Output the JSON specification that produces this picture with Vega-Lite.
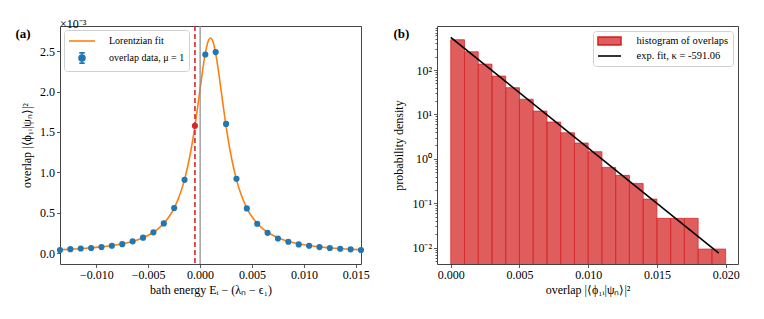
{
  "$schema": "https://vega.github.io/schema/vega-lite/v6.json",
  "padding": {"left": 14, "top": 17, "right": 6, "bottom": 5},
  "background": "white",
  "spacing": 22,
  "resolve": {"scale": {"color": "independent"}, "legend": {"color": "independent"}},
  "config": {
    "view": {"stroke": "#444", "strokeWidth": 1},
    "font": "Liberation Serif",
    "axis": {"domain": false, "grid": false, "tickColor": "#333", "tickSize": 3.5, "tickWidth": 0.8, "labelFont": "Liberation Serif", "labelFontSize": 12, "labelColor": "black", "labelPadding": 2, "titleFont": "Liberation Serif", "titleFontSize": 12, "titleFontWeight": "normal", "titleColor": "black"},
    "legend": {"labelFont": "Liberation Serif", "labelColor": "black", "fillColor": "white", "strokeColor": "#d0d0d0", "cornerRadius": 3, "padding": 4, "title": null}
  },
  "datasets": {
    "curve": [
      {"x": -0.0135, "y": 0.0404}, {"x": -0.012, "y": 0.0501}, {"x": -0.011, "y": 0.0586}, {"x": -0.010, "y": 0.0695},
      {"x": -0.009, "y": 0.0836}, {"x": -0.008, "y": 0.1025}, {"x": -0.007, "y": 0.1284}, {"x": -0.006, "y": 0.1653},
      {"x": -0.005, "y": 0.2201}, {"x": -0.0045, "y": 0.2578}, {"x": -0.004, "y": 0.3058}, {"x": -0.0035, "y": 0.3676},
      {"x": -0.003, "y": 0.4488}, {"x": -0.0025, "y": 0.5574}, {"x": -0.002, "y": 0.7054}, {"x": -0.0015, "y": 0.9099},
      {"x": -0.001, "y": 1.1926}, {"x": -0.00075, "y": 1.370}, {"x": -0.0005, "y": 1.5728}, {"x": -0.00025, "y": 1.7979},
      {"x": 0, "y": 2.0365}, {"x": 0.00025, "y": 2.2708}, {"x": 0.0005, "y": 2.474}, {"x": 0.00075, "y": 2.6145},
      {"x": 0.001, "y": 2.665}, {"x": 0.00125, "y": 2.6145}, {"x": 0.0015, "y": 2.474}, {"x": 0.00175, "y": 2.2708},
      {"x": 0.002, "y": 2.0365}, {"x": 0.00225, "y": 1.7979}, {"x": 0.0025, "y": 1.5728}, {"x": 0.00275, "y": 1.370},
      {"x": 0.003, "y": 1.1926}, {"x": 0.0035, "y": 0.9099}, {"x": 0.004, "y": 0.7054}, {"x": 0.0045, "y": 0.5574},
      {"x": 0.005, "y": 0.4488}, {"x": 0.0055, "y": 0.3676}, {"x": 0.006, "y": 0.3058}, {"x": 0.0065, "y": 0.2578},
      {"x": 0.007, "y": 0.2201}, {"x": 0.008, "y": 0.1653}, {"x": 0.009, "y": 0.1284}, {"x": 0.010, "y": 0.1025},
      {"x": 0.011, "y": 0.0836}, {"x": 0.012, "y": 0.0695}, {"x": 0.013, "y": 0.0586}, {"x": 0.014, "y": 0.0501},
      {"x": 0.0155, "y": 0.0404}
    ],
    "pts": [
      {"x": -0.0135, "y": 0.037}, {"x": -0.0125, "y": 0.048}, {"x": -0.0115, "y": 0.056}, {"x": -0.0105, "y": 0.062},
      {"x": -0.0095, "y": 0.074}, {"x": -0.0085, "y": 0.09}, {"x": -0.0075, "y": 0.11}, {"x": -0.0065, "y": 0.145},
      {"x": -0.0055, "y": 0.19}, {"x": -0.0045, "y": 0.256}, {"x": -0.0035, "y": 0.367}, {"x": -0.0025, "y": 0.557},
      {"x": -0.0015, "y": 0.907}, {"x": 0.0005, "y": 2.46}, {"x": 0.0015, "y": 2.49}, {"x": 0.0025, "y": 1.60},
      {"x": 0.0035, "y": 0.92}, {"x": 0.0045, "y": 0.553}, {"x": 0.0055, "y": 0.363}, {"x": 0.0065, "y": 0.25},
      {"x": 0.0075, "y": 0.18}, {"x": 0.0085, "y": 0.14}, {"x": 0.0095, "y": 0.107}, {"x": 0.0105, "y": 0.09},
      {"x": 0.0115, "y": 0.074}, {"x": 0.0125, "y": 0.062}, {"x": 0.0135, "y": 0.053}, {"x": 0.0145, "y": 0.046},
      {"x": 0.0155, "y": 0.037}
    ],
    "redpt": [{"x": -0.0005, "y": 1.576}],
    "zero": [{"x": 0}],
    "redline": [{"x": -0.0005}],
    "hist": [
      {"x0": 0.000, "x1": 0.001, "h": 481}, {"x0": 0.001, "x1": 0.002, "h": 258}, {"x0": 0.002, "x1": 0.003, "h": 136},
      {"x0": 0.003, "x1": 0.004, "h": 73}, {"x0": 0.004, "x1": 0.005, "h": 40}, {"x0": 0.005, "x1": 0.006, "h": 22},
      {"x0": 0.006, "x1": 0.007, "h": 11.9}, {"x0": 0.007, "x1": 0.008, "h": 6.75}, {"x0": 0.008, "x1": 0.009, "h": 3.87},
      {"x0": 0.009, "x1": 0.010, "h": 2.27}, {"x0": 0.010, "x1": 0.011, "h": 1.45}, {"x0": 0.011, "x1": 0.012, "h": 0.643},
      {"x0": 0.012, "x1": 0.013, "h": 0.425}, {"x0": 0.013, "x1": 0.014, "h": 0.28}, {"x0": 0.014, "x1": 0.015, "h": 0.124},
      {"x0": 0.015, "x1": 0.016, "h": 0.0457}, {"x0": 0.016, "x1": 0.017, "h": 0.0457}, {"x0": 0.017, "x1": 0.018, "h": 0.0457},
      {"x0": 0.018, "x1": 0.019, "h": 0.0093}, {"x0": 0.019, "x1": 0.020, "h": 0.0093}
    ],
    "fit": [{"x": 0, "y": 545}, {"x": 0.0195, "y": 0.0075}]
  },
  "hconcat": [
    {
      "width": 301,
      "height": 238,
      "title": {"text": "×10⁻³", "anchor": "start", "frame": "group", "fontSize": 12, "fontWeight": "normal", "font": "Liberation Serif", "offset": -6, "color": "black"},
      "resolve": {"axis": {"x": "independent"}},
      "layer": [
        {
          "data": {"name": "curve"},
          "transform": [{"calculate": "'Lorentzian fit'", "as": "s"}],
          "mark": {"type": "line", "color": "#ff7f0e", "strokeWidth": 1.6, "interpolate": "monotone", "clip": true},
          "encoding": {
            "x": {"field": "x", "type": "quantitative", "scale": {"domain": [-0.0135, 0.0155], "nice": false, "zero": false},
                  "axis": {"values": [-0.01, -0.005, 0, 0.005, 0.01, 0.015], "format": ".3f", "title": "bath energy Eᵢ − (λₙ − ϵ₁)", "titlePadding": 4}},
            "y": {"field": "y", "type": "quantitative", "scale": {"domain": [-0.136, 2.813], "nice": false, "zero": false},
                  "axis": {"values": [0, 0.5, 1, 1.5, 2, 2.5], "format": ".1f", "title": "overlap |⟨ϕ₁ᵢ|ψₙ⟩|²", "titlePadding": 6}},
            "color": {"field": "s", "type": "nominal",
                      "scale": {"domain": ["Lorentzian fit", "overlap data, μ = 1"], "range": ["#ff7f0e", "#1f77b4"]},
                      "legend": {"orient": "top-left", "offset": 4, "labelFontSize": 10, "symbolSize": 144, "rowPadding": 3, "symbolOffset": 7, "labelOffset": 20,
                                 "encode": {"symbols": {"update": {
                                   "shape": {"signal": "datum.value == 'Lorentzian fit' ? 'M-2.17,0H2.17' : 'M-0.5,0A0.5,0.5 0 1,0 0.5,0A0.5,0.5 0 1,0 -0.5,0Z M0,-0.85V0.85M-0.45,-0.85H0.45M-0.45,0.85H0.45'"},
                                   "stroke": {"signal": "datum.value == 'Lorentzian fit' ? '#ff7f0e' : '#1f77b4'"},
                                   "fill": {"signal": "datum.value == 'Lorentzian fit' ? 'transparent' : '#1f77b4'"},
                                   "fillOpacity": {"value": 1},
                                   "strokeOpacity": {"value": 1},
                                   "opacity": {"value": 1},
                                   "strokeWidth": {"value": 1.6}}}}}}
          }
        },
        {
          "data": {"name": "zero"},
          "mark": {"type": "rule", "color": "#8c8c8c", "strokeWidth": 1.2},
          "encoding": {
            "x": {"field": "x", "type": "quantitative",
                  "axis": {"orient": "top", "labels": false, "ticks": false, "domain": false, "title": "(a)", "titleX": -45, "titleY": 11, "titleAngle": 0, "titleAlign": "left", "titleBaseline": "alphabetic", "titleFontWeight": "bold", "titleFontSize": 13}}
          }
        },
        {
          "data": {"name": "redline"},
          "mark": {"type": "rule", "color": "#d62728", "strokeWidth": 1.6, "strokeDash": [5, 3]},
          "encoding": {"x": {"field": "x", "type": "quantitative", "axis": null}}
        },
        {
          "data": {"name": "pts"},
          "transform": [{"calculate": "'overlap data, μ = 1'", "as": "s"}],
          "mark": {"type": "point", "filled": true, "size": 38, "opacity": 1, "clip": false},
          "encoding": {
            "x": {"field": "x", "type": "quantitative", "axis": null},
            "y": {"field": "y", "type": "quantitative"},
            "color": {"field": "s", "type": "nominal",
                      "legend": {"orient": "top-left", "offset": 4, "labelFontSize": 10, "symbolSize": 144, "rowPadding": 3, "symbolOffset": 7, "labelOffset": 20,
                                 "encode": {"symbols": {"update": {
                                   "shape": {"signal": "datum.value == 'Lorentzian fit' ? 'M-2.17,0H2.17' : 'M-0.5,0A0.5,0.5 0 1,0 0.5,0A0.5,0.5 0 1,0 -0.5,0Z M0,-0.85V0.85M-0.45,-0.85H0.45M-0.45,0.85H0.45'"},
                                   "stroke": {"signal": "datum.value == 'Lorentzian fit' ? '#ff7f0e' : '#1f77b4'"},
                                   "fill": {"signal": "datum.value == 'Lorentzian fit' ? 'transparent' : '#1f77b4'"},
                                   "fillOpacity": {"value": 1},
                                   "strokeOpacity": {"value": 1},
                                   "opacity": {"value": 1},
                                   "strokeWidth": {"value": 1.6}}}}}}
          }
        },
        {
          "data": {"name": "redpt"},
          "mark": {"type": "point", "filled": true, "size": 38, "opacity": 1, "color": "#d62728"},
          "encoding": {
            "x": {"field": "x", "type": "quantitative", "axis": null},
            "y": {"field": "y", "type": "quantitative"}
          }
        }
      ]
    },
    {
      "width": 301,
      "height": 238,
      "resolve": {"axis": {"x": "independent"}},
      "layer": [
        {
          "data": {"name": "hist"},
          "transform": [{"calculate": "'histogram of overlaps'", "as": "s"}],
          "mark": {"type": "rect", "fillOpacity": 0.75, "strokeOpacity": 0.75, "stroke": "#d62728", "strokeWidth": 1, "clip": true},
          "encoding": {
            "x": {"field": "x0", "type": "quantitative", "scale": {"domain": [-0.001, 0.0209], "nice": false, "zero": false},
                  "axis": {"values": [0, 0.005, 0.01, 0.015, 0.02], "format": ".3f", "title": "overlap |⟨ϕ₁ᵢ|ψₙ⟩|²", "titlePadding": 4}},
            "x2": {"field": "x1"},
            "y": {"field": "h", "type": "quantitative", "scale": {"type": "log", "domain": [0.00429, 981], "nice": false},
                  "axis": {"values": [0.005, 0.006, 0.007, 0.008, 0.009, 0.01, 0.02, 0.03, 0.04, 0.05, 0.06, 0.07, 0.08, 0.09, 0.1, 0.2, 0.3, 0.4, 0.5, 0.6, 0.7, 0.8, 0.9, 1, 2, 3, 4, 5, 6, 7, 8, 9, 10, 20, 30, 40, 50, 60, 70, 80, 90, 100, 200, 300, 400, 500, 600, 700, 800, 900],
                           "labelExpr": "datum.value == 100 ? '10²' : datum.value == 10 ? '10¹' : datum.value == 1 ? '10⁰' : datum.value == 0.1 ? '10⁻¹' : datum.value == 0.01 ? '10⁻²' : ''",
                           "tickSize": {"condition": {"test": "datum.value == 100 || datum.value == 10 || datum.value == 1 || datum.value == 0.1 || datum.value == 0.01", "value": 3.5}, "value": 2},
                           "title": "probability density", "titlePadding": 6}},
            "y2": {"datum": 0.001},
            "color": {"field": "s", "type": "nominal",
                      "scale": {"domain": ["histogram of overlaps", "exp. fit, κ = -591.06"], "range": ["#d62728", "#000000"]},
                      "legend": {"orient": "top-right", "offset": 5, "labelFontSize": 10.5, "symbolSize": 100, "rowPadding": 1, "symbolOffset": 6.5, "labelOffset": 21,
                                 "encode": {"symbols": {"update": {
                                   "shape": {"signal": "datum.value == 'histogram of overlaps' ? 'M-2.3,-0.77H2.3V0.77H-2.3Z' : 'M-2.3,0H2.3'"},
                                   "stroke": {"signal": "datum.value == 'histogram of overlaps' ? 'transparent' : '#000000'"},
                                   "fill": {"signal": "datum.value == 'histogram of overlaps' ? '#d62728' : 'transparent'"},
                                   "fillOpacity": {"value": 0.75},
                                   "strokeOpacity": {"value": 1},
                                   "opacity": {"value": 1},
                                   "strokeWidth": {"value": 1.6}}}}}}
          }
        },
        {
          "data": {"name": "fit"},
          "transform": [{"calculate": "'exp. fit, κ = -591.06'", "as": "s"}],
          "mark": {"type": "line", "strokeWidth": 1.6, "clip": true},
          "encoding": {
            "x": {"field": "x", "type": "quantitative",
                  "axis": {"orient": "top", "labels": false, "ticks": false, "domain": false, "title": "(b)", "titleX": -44, "titleY": 11, "titleAngle": 0, "titleAlign": "left", "titleBaseline": "alphabetic", "titleFontWeight": "bold", "titleFontSize": 13}},
            "y": {"field": "y", "type": "quantitative"},
            "color": {"field": "s", "type": "nominal",
                      "legend": {"orient": "top-right", "offset": 5, "labelFontSize": 10.5, "symbolSize": 100, "rowPadding": 1, "symbolOffset": 6.5, "labelOffset": 21,
                                 "encode": {"symbols": {"update": {
                                   "shape": {"signal": "datum.value == 'histogram of overlaps' ? 'M-2.3,-0.77H2.3V0.77H-2.3Z' : 'M-2.3,0H2.3'"},
                                   "stroke": {"signal": "datum.value == 'histogram of overlaps' ? 'transparent' : '#000000'"},
                                   "fill": {"signal": "datum.value == 'histogram of overlaps' ? '#d62728' : 'transparent'"},
                                   "fillOpacity": {"value": 0.75},
                                   "strokeOpacity": {"value": 1},
                                   "opacity": {"value": 1},
                                   "strokeWidth": {"value": 1.6}}}}}}
          }
        }
      ]
    }
  ]
}
